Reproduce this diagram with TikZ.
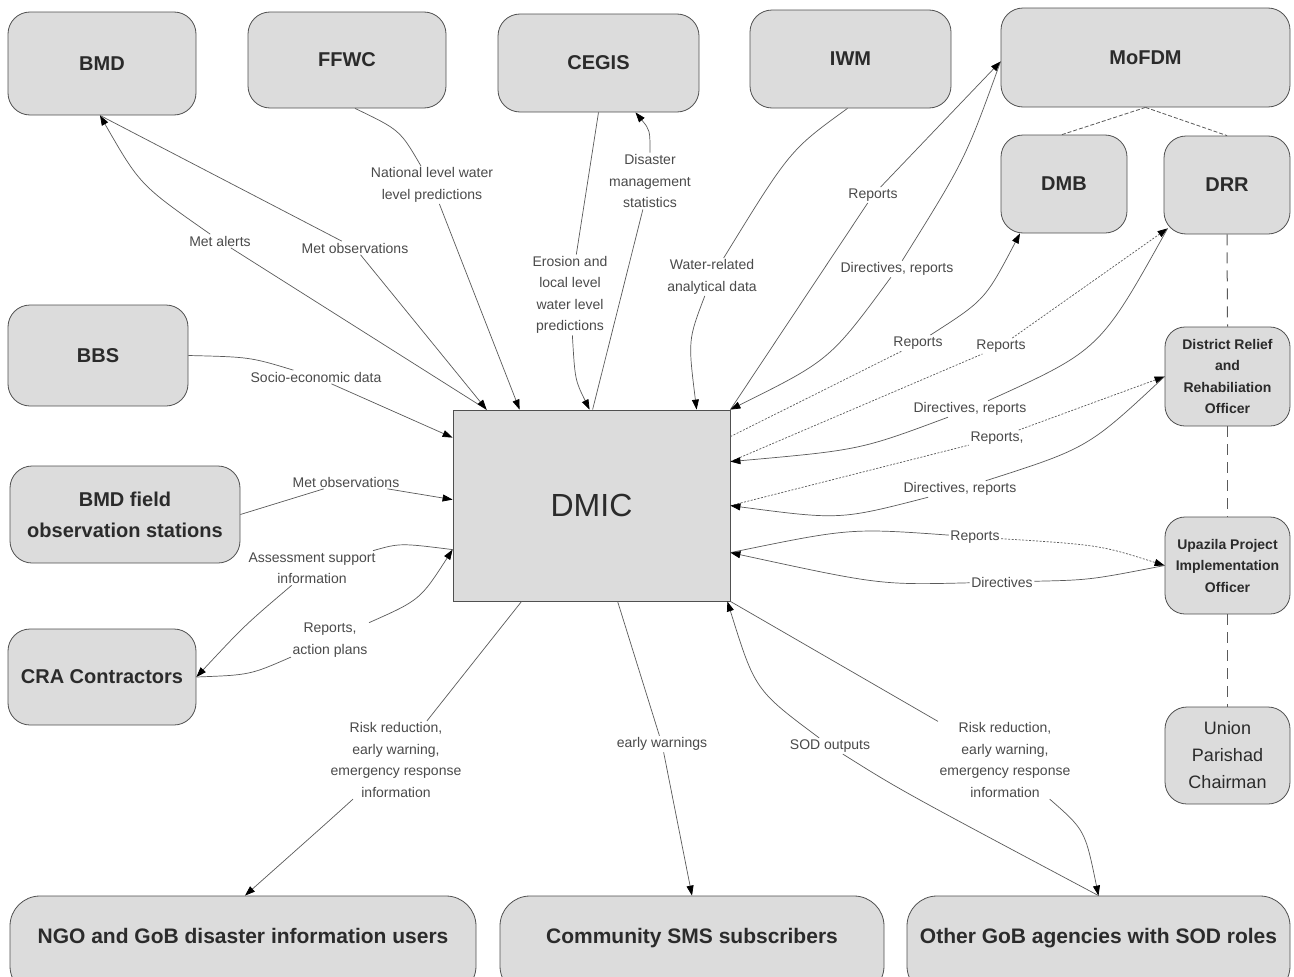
\documentclass[tikz,border=0pt]{standalone}
\usepackage{fontspec}
\setmainfont{Liberation Sans}
\usetikzlibrary{arrows.meta}
\definecolor{boxfill}{HTML}{DCDCDC}
\definecolor{boxdraw}{HTML}{505050}
\definecolor{linegray}{HTML}{5A5A5A}
\definecolor{labgray}{HTML}{4A4A4A}
\definecolor{txtdark}{HTML}{2B2B2B}
\begin{document}
\begin{tikzpicture}[x=1pt,y=-1pt,
  box/.style={draw=boxdraw, fill=boxfill, rounded corners=22pt, line width=0.8pt, text=txtdark,
    font=\fontsize{20}{24}\selectfont\bfseries, align=center, inner sep=0pt},
  smallbox/.style={box, rounded corners=20pt, font=\fontsize{14}{21.5}\selectfont\bfseries},
  botbox/.style={box, rounded corners=30pt, font=\fontsize{21}{25}\selectfont\bfseries,
    text height=16pt, text depth=22pt, minimum height=100pt},
  centre/.style={draw=boxdraw, fill=boxfill, line width=0.8pt, text=txtdark,
    font=\fontsize{32}{36}\selectfont, inner sep=0pt},
  lab/.style={font=\fontsize{14}{21.5}\selectfont, text=labgray, align=center, inner sep=1.5pt},
  con/.style={draw=linegray, line width=0.7pt},
  arr/.style={con, -{Triangle[length=10pt,width=7pt,color=black]}},
  dotted line/.style={dash pattern=on 2pt off 1.5pt},
  dashlink/.style={draw=linegray, line width=0.8pt, dash pattern=on 4pt off 2pt},
  vdash/.style={draw=linegray, line width=1pt, dash pattern=on 11pt off 7pt}
]
\clip (0,0) rectangle (1294,977);
\fill[white] (0,0) rectangle (1294,977);

% ---- nodes
\node[box, minimum width=188pt, minimum height=103pt] (BMD) at (102,63.5) {BMD};
\node[box, minimum width=198pt, minimum height=96pt] (FFWC) at (347,60) {FFWC};
\node[box, minimum width=201pt, minimum height=98pt] (CEGIS) at (598.5,63) {CEGIS};
\node[box, minimum width=201pt, minimum height=98pt] (IWM) at (850.5,59) {IWM};
\node[box, minimum width=289pt, minimum height=99pt] (MoFDM) at (1145.5,57.5) {MoFDM};
\node[box, minimum width=126pt, minimum height=98pt] (DMB) at (1064,184) {DMB};
\node[box, minimum width=126pt, minimum height=98pt] (DRR) at (1227,185) {DRR};
\node[smallbox, minimum width=125pt, minimum height=99pt] (District) at (1227.5,376.5) {District Relief\\and\\Rehabiliation\\Officer};
\node[smallbox, minimum width=125pt, minimum height=97pt] (Upazila) at (1227.5,565.5) {Upazila Project\\Implementation\\Officer};
\node[box, font=\fontsize{18}{27}\selectfont, minimum width=125pt, minimum height=97pt] (Union) at (1227.5,755.5) {Union\\Parishad\\Chairman};
\node[box, minimum width=180pt, minimum height=101pt] (BBS) at (98,355.5) {BBS};
\node[box, font=\fontsize{20}{31}\selectfont\bfseries, minimum width=230pt, minimum height=97pt] (BMDf) at (125,514.5) {BMD field\\observation stations};
\node[box, minimum width=188pt, minimum height=96pt] (CRA) at (102,677) {CRA Contractors};
\node[centre, minimum width=277pt, minimum height=191pt] (DMIC) at (591.5,505.5) {DMIC};
\node[botbox, minimum width=466pt] (NGO) at (243,946) {NGO and GoB disaster information users};
\node[botbox, minimum width=384pt] (Comm) at (692,946) {Community SMS subscribers};
\node[botbox, minimum width=383pt] (Other) at (1098.5,946) {Other GoB agencies with SOD roles};

% ---- structure links
\draw[dashlink] (MoFDM.south) -- ([xshift=-2]DMB.north);
\draw[dashlink] (MoFDM.south) -- (DRR.north);
\draw[vdash] (DRR.south) -- (District.north);
\draw[vdash] (District.south) -- (Upazila.north);
\draw[vdash] (Upazila.south) -- (Union.north);

% ---- labels
\node[lab] (lMA) at (220,241) {Met alerts};
\node[lab] (lMO) at (355,248) {Met observations};
\node[lab] (lNL) at (432,185) {National level water\\level predictions};
\node[lab] (lDM) at (650,181) {Disaster\\management\\statistics};
\node[lab] (lER) at (570,295) {Erosion and\\local level\\water level\\predictions};
\node[lab] (lWR) at (712,277) {Water-related\\analytical data};
\node[lab] (lR1) at (873,195) {Reports};
\node[lab] (lDR1) at (897,269) {Directives, reports};
\node[lab] (lR2) at (918,343) {Reports};
\node[lab] (lR3) at (1001,346) {Reports};
\node[lab] (lDR2) at (970,409) {Directives, reports};
\node[lab] (lR4) at (997,438) {Reports,};
\node[lab] (lDR3) at (960,489) {Directives, reports};
\node[lab] (lR5) at (975,537) {Reports};
\node[lab] (lD) at (1002,582) {Directives};
\node[lab] (lSE) at (316,377) {Socio-economic data};
\node[lab] (lMO2) at (346,482) {Met observations};
\node[lab] (lAS) at (312,568) {Assessment support\\information};
\node[lab] (lRA) at (330,640) {Reports,\\action plans};
\node[lab] (lRR1) at (396,760) {Risk reduction,\\early warning,\\emergency response\\information};
\node[lab] (lEW) at (662,744) {early warnings};
\node[lab] (lSOD) at (830,746) {SOD outputs};
\node[lab] (lRR2) at (1005,760) {Risk reduction,\\early warning,\\emergency response\\information};

% ---- BMD
\draw[con] ([xshift=34]DMIC.north west) -- (lMA);
\draw[arr] (lMA) .. controls (140,185) .. ([xshift=-2]BMD.south);
\draw[con] ([xshift=-2]BMD.south) -- (lMO);
\draw[arr] (lMO) -- ([xshift=34]DMIC.north west);
% ---- FFWC
\draw[con] ([xshift=8]FFWC.south) .. controls (400,130) .. (lNL);
\draw[arr] (lNL) -- ([xshift=67]DMIC.north west);
% ---- CEGIS
\draw[con] (CEGIS.south) -- (lER);
\draw[arr] (lER) .. controls (575,380) .. ([xshift=137]DMIC.north west);
\draw[con] ([xshift=140]DMIC.north west) -- (lDM);
\draw[arr] (lDM) .. controls (650,130) .. ([xshift=37]CEGIS.south);
% ---- IWM
\draw[con] ([xshift=-3]IWM.south) .. controls (790,150) .. (lWR);
\draw[arr] (lWR) .. controls (688,340) .. ([xshift=244]DMIC.north west);
% ---- MoFDM
\draw[con] (DMIC.north east) -- (lR1);
\draw[arr] (lR1) -- ([yshift=-4]MoFDM.west);
\draw[con] ([yshift=-4]MoFDM.west) .. controls (965,160) .. (lDR1);
\draw[arr] (lDR1) .. controls (830,360) .. (DMIC.north east);
% ---- DMB
\draw[con, dotted line] ([yshift=-27]DMIC.north east) -- (lR2);
\draw[arr] (lR2) .. controls (985,300) .. ([xshift=-44]DMB.south);
% ---- DRR
\draw[con, dotted line] ([yshift=-52]DMIC.north east) -- (lR3);
\draw[arr, dotted line] (lR3) -- ([xshift=4,yshift=6]DRR.south west);
\draw[con] ([xshift=4,yshift=6]DRR.south west) .. controls (1100,350) .. (lDR2);
\draw[arr] (lDR2) .. controls (860,450) .. ([yshift=-52]DMIC.north east);
% ---- District
\draw[con, dotted line] ([yshift=-96]DMIC.north east) -- (lR4);
\draw[arr, dotted line] (lR4) -- (District.west);
\draw[con] (District.west) .. controls (1088,448) .. (lDR3);
\draw[arr] (lDR3) .. controls (840,520) .. ([yshift=-96]DMIC.north east);
% ---- Upazila
\draw[con] ([yshift=-143]DMIC.north east) .. controls (850,528) .. (lR5);
\draw[arr, dotted line] (lR5) .. controls (1100,545) .. (Upazila.west);
\draw[con] (Upazila.west) .. controls (1090,580) .. (lD);
\draw[arr] (lD) .. controls (880,585) .. ([yshift=-143]DMIC.north east);
% ---- left side
\draw[con] (BBS.east) .. controls (250,357) .. (lSE);
\draw[arr] (lSE) -- ([yshift=-28]DMIC.north west);
\draw[con] (BMDf.east) -- (lMO2);
\draw[arr] (lMO2) -- ([yshift=-90]DMIC.north west);
\draw[con] ([yshift=-140]DMIC.north west) .. controls (400,543) .. (lAS);
\draw[arr] (lAS) .. controls (245,625) .. (CRA.east);
\draw[con] (CRA.east) .. controls (250,675) .. (lRA);
\draw[arr] (lRA) .. controls (420,600) .. ([yshift=-140]DMIC.north west);
% ---- bottom
\draw[con] ([xshift=69]DMIC.south west) -- (lRR1);
\draw[arr] (lRR1) .. controls (330,820) .. ([xshift=2]NGO.north);
\draw[con] ([xshift=165]DMIC.south west) -- (lEW);
\draw[arr] (lEW) -- (Comm.north);
\draw[con] (Other.north) .. controls (900,790) .. (lSOD);
\draw[arr] (lSOD) .. controls (755,690) .. ([xshift=-3]DMIC.south east);
\draw[con] (DMIC.south east) -- (lRR2);
\draw[arr] (lRR2) .. controls (1085,830) .. (Other.north);
\end{tikzpicture}
\end{document}
